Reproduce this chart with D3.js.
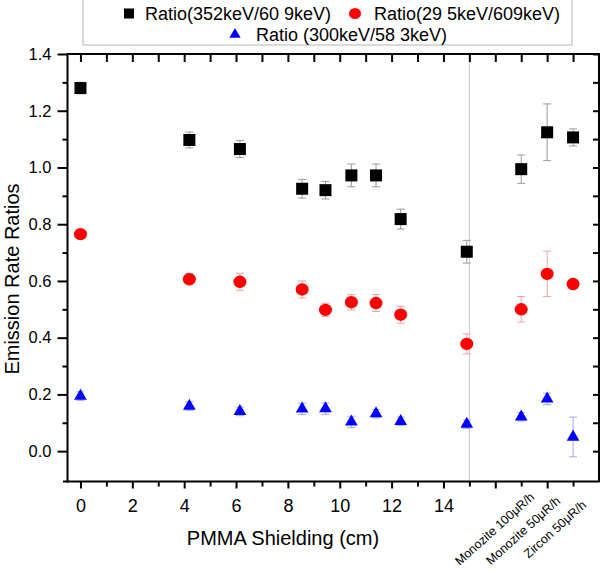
<!DOCTYPE html>
<html><head><meta charset="utf-8">
<script src="https://cdn.jsdelivr.net/npm/d3@7"></script>
<style>
body{margin:0;background:#fff;}
svg{display:block;font-family:"Liberation Sans",Arial,sans-serif;}
</style></head>
<body><svg id="c" width="602" height="573"></svg>
<script>
// ---- data ----
const shielding = [0, 4.2, 6.15, 8.55, 9.45, 10.45, 11.4, 12.35, 14.9];
const sources = ["Monozite 100\u03bcR/h", "Monozite 50\u03bcR/h", "Zircon 50\u03bcR/h"];
const sourcePos = [17, 18, 19];
const ratio352 = [1.28, 1.097, 1.065, 0.925, 0.92, 0.972, 0.972, 0.818, 0.703, 0.994, 1.124, 1.106];
const err352   = [0.02, 0.028, 0.03, 0.033, 0.031, 0.04, 0.04, 0.035, 0.04, 0.05, 0.1, 0.03];
const ratio295 = [0.765, 0.606, 0.597, 0.570, 0.498, 0.525, 0.522, 0.481, 0.378, 0.50, 0.625, 0.589];
const err295   = [0.01, 0.02, 0.03, 0.03, 0.023, 0.027, 0.03, 0.03, 0.035, 0.045, 0.08, 0.015];
const ratio300 = [0.194, 0.159, 0.14, 0.149, 0.15, 0.103, 0.132, 0.105, 0.095, 0.121, 0.184, 0.05];
const err300   = [0.015, 0.015, 0.015, 0.02, 0.02, 0.02, 0.015, 0.015, 0.015, 0.015, 0.02, 0.07];
const seriesNames = ["Ratio(352keV/60 9keV)", "Ratio(29 5keV/609keV)", "Ratio (300keV/58 3keV)"];
const xTickLabels = [0, 2, 4, 6, 8, 10, 12, 14];
const yTickLabels = [0.0, 0.2, 0.4, 0.6, 0.8, 1.0, 1.2, 1.4];

// ---- layout ----
const svg = d3.select("#c");
const L = 67.5, R = 599, T = 54, B = 481.5;
const x = d3.scaleLinear().domain([-0.5, 20]).range([L, R]);
const y = d3.scaleLinear().domain([-0.107, 1.4]).range([B, T]);
const xAll = shielding.concat(sourcePos);

// separator line
svg.append("line").attr("x1", x(15)).attr("x2", x(15)).attr("y1", T).attr("y2", B)
  .attr("stroke", "#c4c4c4").attr("stroke-width", 1);

// bottom axis
const gx = svg.append("g").attr("transform", `translate(0,${B})`)
  .call(d3.axisBottom(x).tickValues(d3.range(0, 20)).tickSize(7)
    .tickFormat(d => xTickLabels.includes(d) ? d : ""));
gx.select(".domain").remove();
gx.selectAll(".tick line").attr("stroke-width", 2).attr("y2", d => d % 2 === 0 ? 7 : 5);
gx.selectAll(".tick text").attr("y", 17.5).attr("font-size", 18).attr("font-family", "Liberation Sans, Arial");

// top ticks (inside)
const gt = svg.append("g").attr("transform", `translate(0,${T})`)
  .call(d3.axisTop(x).tickValues(d3.range(0, 20)).tickSize(-8).tickFormat(""));
gt.select(".domain").remove();
gt.selectAll(".tick line").attr("stroke-width", 2);

// left axis
const minorY = d3.range(-0.1, 1.41, 0.1).map(v => Math.round(v * 10) / 10);
const gy = svg.append("g").attr("transform", `translate(${L},0)`)
  .call(d3.axisLeft(y).tickValues(minorY.filter(v => v >= 0)).tickSize(10)
    .tickFormat(d => yTickLabels.some(t => Math.abs(t - d) < 1e-6) ? d3.format(".1f")(d) : ""));
gy.select(".domain").remove();
gy.selectAll(".tick line").attr("stroke-width", 2)
  .attr("x2", d => yTickLabels.some(t => Math.abs(t - d) < 1e-6) ? -10 : -5);
gy.selectAll(".tick text").attr("x", -16).attr("font-size", 16.5).attr("font-family", "Liberation Sans, Arial");

// right ticks (inside)
const gr = svg.append("g").attr("transform", `translate(${R},0)`)
  .call(d3.axisRight(y).tickValues(minorY.filter(v => v >= 0)).tickSize(-6).tickFormat(""));
gr.select(".domain").remove();
gr.selectAll(".tick line").attr("stroke-width", 2);

// frame
svg.append("path").attr("d", `M${L},${T}H${R}V${B}`).attr("fill", "none").attr("stroke", "#000").attr("stroke-width", 2);
svg.append("line").attr("x1", L).attr("x2", L).attr("y1", T - 1).attr("y2", B + 1).attr("stroke", "#000").attr("stroke-width", 2);
svg.append("line").attr("x1", 63).attr("x2", R + 1).attr("y1", B).attr("y2", B).attr("stroke", "#000").attr("stroke-width", 2);

// category labels
svg.append("g").selectAll("text").data(sources).join("text")
  .attr("transform", (d, i) => `translate(${x(sourcePos[i]) + 14},${498 + i * 4}) rotate(-42)`)
  .attr("text-anchor", "end").attr("font-size", 12.5).attr("fill", "#000").text(d => d);

// axis titles
svg.append("text").attr("x", 283).attr("y", 545).attr("text-anchor", "middle")
  .attr("font-size", 20).text("PMMA Shielding (cm)");
svg.append("text").attr("transform", "translate(19,279) rotate(-90)").attr("text-anchor", "middle")
  .attr("font-size", 20).text("Emission Rate Ratios");

// error bars + markers
const series = [
  {vals: ratio352, errs: err352, color: "#000", ecolor: "#9a9a9a", shape: "square"},
  {vals: ratio295, errs: err295, color: "#ff0000", ecolor: "#f3a3a3", shape: "circle"},
  {vals: ratio300, errs: err300, color: "#0000ff", ecolor: "#a6a6f0", shape: "triangle"}
];
series.forEach(s => {
  const g = svg.append("g");
  const data = s.vals.map((v, i) => ({x: xAll[i], v, e: s.errs[i]}));
  const eb = g.append("g").attr("stroke", s.ecolor).attr("stroke-width", 1);
  data.forEach(d => {
    const cx = x(d.x), y0 = y(d.v - d.e), y1 = y(d.v + d.e);
    eb.append("line").attr("x1", cx).attr("x2", cx).attr("y1", y0).attr("y2", y1);
    eb.append("line").attr("x1", cx - 4).attr("x2", cx + 4).attr("y1", y0).attr("y2", y0);
    eb.append("line").attr("x1", cx - 4).attr("x2", cx + 4).attr("y1", y1).attr("y2", y1);
  });
  const mk = g.append("g").attr("fill", s.color);
  data.forEach(d => {
    const cx = x(d.x), cy = y(d.v);
    if (s.shape === "square") mk.append("rect").attr("x", cx - 6).attr("y", cy - 6).attr("width", 12).attr("height", 12);
    else if (s.shape === "circle") mk.append("ellipse").attr("cx", cx).attr("cy", cy).attr("rx", 6.5).attr("ry", 6.2);
    else mk.append("path").attr("transform", `translate(${cx},${cy})`).attr("d", d3.symbol(d3.symbolTriangle, 70)());
  });
});

// legend
const lg = svg.append("g");
lg.append("rect").attr("x", 83).attr("y", -2).attr("width", 489).attr("height", 47)
  .attr("fill", "#fff").attr("stroke", "#b4b4b4").attr("stroke-width", 1);
const legendPos = [{mx: 129, my: 13.5, tx: 145, ty: 19.5}, {mx: 355, my: 13.5, tx: 374, ty: 19.5}, {mx: 235, my: 34.5, tx: 256, ty: 40.5}];
series.forEach((s, i) => {
  const p = legendPos[i];
  if (s.shape === "square") lg.append("rect").attr("x", p.mx - 5).attr("y", p.my - 5).attr("width", 10).attr("height", 10).attr("fill", s.color);
  else if (s.shape === "circle") lg.append("ellipse").attr("cx", p.mx).attr("cy", p.my).attr("rx", 6).attr("ry", 5.5).attr("fill", s.color);
  else lg.append("path").attr("transform", `translate(${p.mx},${p.my})`).attr("d", d3.symbol(d3.symbolTriangle, 55)()).attr("fill", s.color);
  lg.append("text").attr("x", p.tx).attr("y", p.ty).attr("font-size", 18).text(seriesNames[i]);
});
</script></body></html>
